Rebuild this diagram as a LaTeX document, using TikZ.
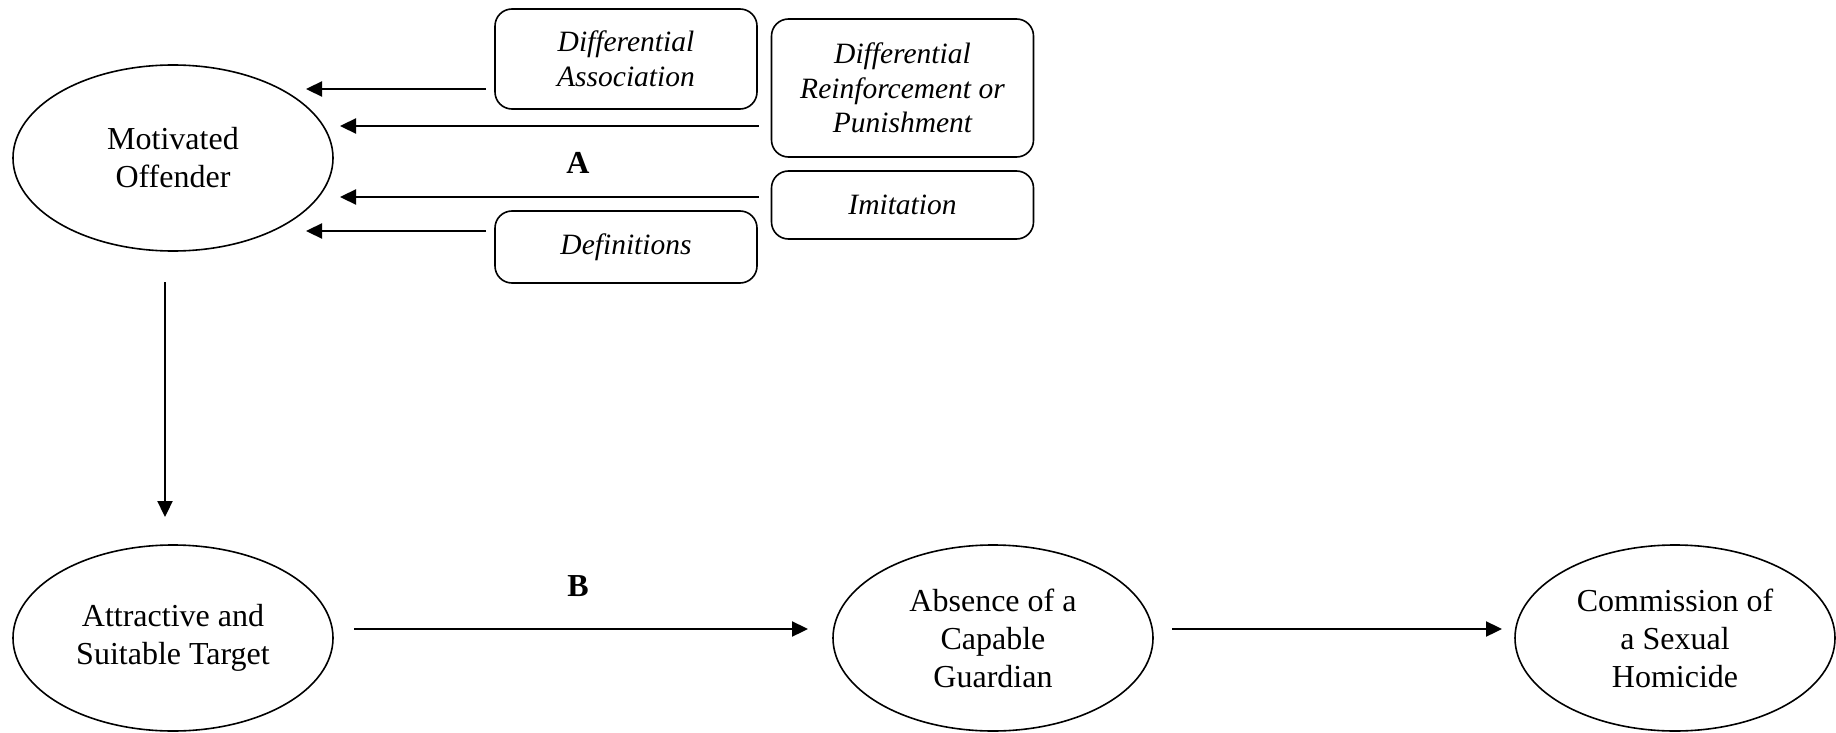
\documentclass[tikz,border=0pt]{standalone}
\usepackage{fontspec}
\setmainfont{Liberation Serif}
\usetikzlibrary{shapes.geometric,arrows.meta,calc}
\begin{document}
\begin{tikzpicture}[x=1pt,y=-1pt,
  oval/.style={draw,ellipse,line width=1.6pt,minimum width=320pt,minimum height=186pt,inner sep=0pt,outer sep=0pt,align=center,font=\fontsize{32}{38}\selectfont},
  fbox/.style={draw,rectangle,rounded corners=17pt,line width=1.6pt,minimum width=262pt,inner sep=0pt,outer sep=0pt,align=center,font=\fontsize{29.5}{34.5}\selectfont\itshape},
  arr/.style={line width=2.3pt,-{Triangle[length=16pt,width=15pt]}},
  lab/.style={font=\fontsize{32}{38}\selectfont\bfseries}
]
\path[use as bounding box] (0,0) rectangle (1836,733);

\node[oval] (mo) at (173,158) {Motivated\\Offender};
\node[oval] (at) at (173,638) {Attractive and\\Suitable Target};
\node[oval] (ab) at (993,638) {Absence of a\\Capable\\Guardian};
\node[oval] (cm) at (1675,638) {Commission of\\a Sexual\\Homicide};

\node[fbox,minimum height=100pt] (da) at (626,59) {Differential\\Association};
\node[fbox,minimum height=138pt] (rb) at (902.5,88) {Differential\\Reinforcement or\\Punishment};
\node[fbox,minimum height=68pt] (im) at (902.5,205) {Imitation};
\node[fbox,minimum height=72pt] (df) at (626,247) {Definitions};

\node[lab] (A) at (578,163) {A};
\node[lab] (B) at (578,586) {B};

\coordinate (t1) at (306,89);
\coordinate (t2) at (340,126);
\coordinate (t3) at (340,197);
\coordinate (t4) at (306,231);

\draw[arr,shorten <=9pt] (da.west |- t1) -- (t1);
\draw[arr,shorten <=13pt] (rb.west |- t2) -- (t2);
\draw[arr,shorten <=13pt] (im.west |- t3) -- (t3);
\draw[arr,shorten <=9pt] (df.west |- t4) -- (t4);

\draw[arr,shorten <=31pt,shorten >=28pt] ([xshift=-8pt]mo.south) -- ([xshift=-8pt]at.north);
\draw[arr,shorten <=21pt,shorten >=25pt] ([yshift=9pt]at.east) -- ([yshift=9pt]ab.west);
\draw[arr,shorten <=19pt,shorten >=13pt] ([yshift=9pt]ab.east) -- ([yshift=9pt]cm.west);
\end{tikzpicture}
\end{document}
